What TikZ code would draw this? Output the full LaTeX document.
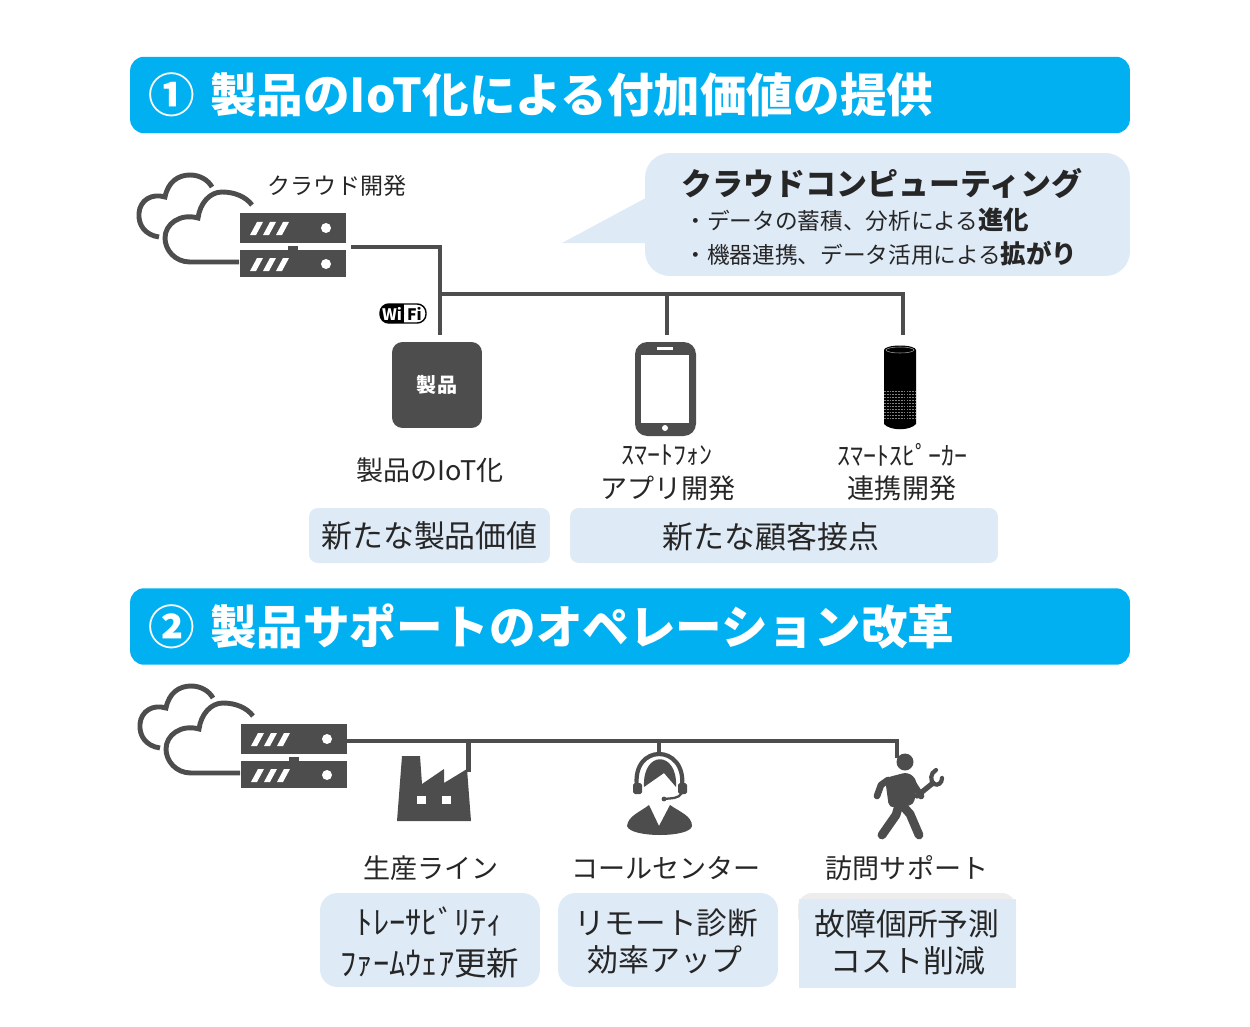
\documentclass[tikz,border=0pt]{standalone}
\usepackage{fontspec}
\setmainfont{Noto Sans CJK JP}
\usepackage{xcolor}
\usetikzlibrary{arrows.meta,positioning,calc}
\definecolor{hdBlue}{HTML}{00B0F0}
\definecolor{paleBlue}{HTML}{DEEAF6}
\definecolor{iconGray}{HTML}{4D4D4D}
\definecolor{inkGray}{HTML}{262626}

\begin{document}
\begin{tikzpicture}[
  x=0.02cm, y=-0.02cm,
  hdr/.style={fill=hdBlue, rounded corners=8pt, text=white, align=left, inner sep=0pt,
    minimum width=20cm, minimum height=1.53cm, text width=19.28cm,
    font=\fontsize{26.5}{30}\selectfont\bfseries},
  lbl/.style={text=inkGray, inner sep=0pt, align=center, font=\fontsize{15.4}{18}\selectfont},
  tag/.style={fill=paleBlue, rounded corners=#1, text=inkGray, inner sep=0pt, align=center,
    font=\fontsize{17.6}{24}\selectfont},
  tag/.default=5pt,
  wire/.style={draw=iconGray, line width=2.3pt},
  cloudsrv/.pic={
    \draw[iconGray, line width=2.8pt] (159,237) .. controls (145,235) and (138,225) .. (139,213)
      .. controls (140,200) and (152,193) .. (165,197) .. controls (168,182) and (178,175) .. (190,175)
      .. controls (200,175) and (208,180) .. (212,187);
    \draw[iconGray, line width=2.8pt] (239,262) -- (190,262) .. controls (175,262) and (165,250) .. (165,238)
      .. controls (165,224) and (180,213) .. (198,218) .. controls (200,203) and (210,192) .. (222,192)
      .. controls (235,192) and (246,197) .. (252,205);
    \fill[iconGray] (240,213) rectangle (346,243);
    \fill[iconGray] (240,250) rectangle (346,277);
    \fill[iconGray] (288,246) rectangle (298,250);
    \foreach \yy in {0,36} {
      \foreach \xx in {0,13,26} {
        \fill[white] (250+\xx,235+\yy) -- (256+\xx,235+\yy) -- (263+\xx,222+\yy) -- (257+\xx,222+\yy) -- cycle;
      }
      \fill[white] (326,228+\yy) circle [radius=5];
    }
    \coordinate (-port) at (346,230);
  }
]
\useasboundingbox (0,0) rectangle (1250,1027);

% section 1
\node[hdr] (hdrA) at (630,95) {① 製品のIoT化による付加価値の提供};
\pic (srvA) at (0,0) {cloudsrv};
\node[lbl, font=\fontsize{13.1}{16}\selectfont] (cloudLbl) at (337,186) {クラウド開発};

% callout
\coordinate (tipA) at (562,243);
\fill[paleBlue] (tipA) -- (655,193) -- (655,243) -- cycle;
\node[fill=paleBlue, rounded corners=14pt, minimum width=9.7cm, minimum height=2.46cm, inner sep=0pt]
  (bubble) at (887.5,214.5) {};
\node[text=inkGray, inner sep=0pt, font=\fontsize{17.6}{20}\selectfont\bfseries] (bubbleT) at (882,183)
  {クラウドコンピューティング};
\node[text=inkGray, inner sep=0pt, anchor=west, font=\fontsize{12.9}{16}\selectfont] (bubbleA) at (684,220)
  {・データの蓄積、分析による{\fontsize{14.5}{16}\selectfont\bfseries 進化}};
\node[text=inkGray, inner sep=0pt, anchor=west, font=\fontsize{12.9}{16}\selectfont] (bubbleB) at (684,254)
  {・機器連携、データ活用による{\fontsize{14.5}{16}\selectfont\bfseries 拡がり}};

% wires
\coordinate (hubA) at (440,247);
\coordinate (hubB) at (440,294);
\coordinate (hubC) at (667,294);
\coordinate (hubD) at (903,294);
\coordinate (srvOut) at (351,247);
\coordinate (prodIn) at (440,335);
\coordinate (phoneIn) at (667,335);
\coordinate (spkIn) at (903,335);
\draw[wire] (srvOut) -- (hubA) -- (prodIn);
\draw[wire] (hubB) -- (hubD) -- (spkIn);
\draw[wire] (hubC) -- (phoneIn);

% wifi mark
\draw[black, fill=white, line width=0.8pt, rounded corners=5pt] (380,304) rectangle (426,323);
\fill[black, rounded corners=5pt] (404,304) -- (380,304) -- (380,323) -- (404,323) -- cycle;
\fill[black] (396,304) rectangle (404,323);
\node[text=white, inner sep=0pt, font=\fontsize{9}{10}\selectfont\bfseries] (wifiL) at (392,313.5) {Wi};
\node[text=black, inner sep=0pt, font=\fontsize{9}{10}\selectfont\bfseries] (wifiR) at (414.5,313.5) {Fi};

% product, phone, speaker
\node[fill=iconGray, rounded corners=6pt, text=white, minimum width=1.8cm, minimum height=1.72cm, inner sep=0pt,
  font=\fontsize{11.4}{14}\selectfont\bfseries] (prod) at (437,385) {製品};
\fill[iconGray, rounded corners=7pt] (635,342) rectangle (696,436);
\fill[white] (641,355) rectangle (689,423);
\fill[white] (657,347) rectangle (673,349.5);
\fill[white] (665,428) circle [radius=3];
\fill[black] (884,350) -- (884,424) .. controls (890,431) and (910,431) .. (916,424) -- (916,350) -- cycle;
\fill[black] (900,350) ellipse [x radius=16, y radius=4.5];
\draw[gray!70, line width=0.3pt] (900,350) ellipse [x radius=14, y radius=3];
\foreach \yy in {391,394,...,418} {
  \draw[gray, line width=0.5pt, dash pattern=on 1pt off 0.6pt] (884,\yy) -- (916,\yy);
}

\node[lbl] (prodLbl) at (430,470) {製品のIoT化};
\node[lbl, font=\fontsize{14.8}{18}\selectfont] (phoneTop) at (667,455) {ｽﾏｰﾄﾌｫﾝ};
\node[lbl] (phoneLbl) at (668,488) {アプリ開発};
\node[lbl, font=\fontsize{14.8}{18}\selectfont] (spkTop) at (902,455) {ｽﾏｰﾄｽﾋﾟｰｶｰ};
\node[lbl] (spkLbl) at (902,488) {連携開発};
\node[tag, minimum width=4.82cm, minimum height=1.1cm] (valueTag) at (429.5,535.5) {新たな製品価値};
\node[tag, minimum width=8.56cm, minimum height=1.1cm] (touchTag) at (784,535.5) {};
\node[text=inkGray, inner sep=0pt, font=\fontsize{17.6}{24}\selectfont] (touchTxt) at (771,537) {新たな顧客接点};

% section 2
\node[hdr] (hdrB) at (630,626.5) {② 製品サポートのオペレーション改革};
\pic (srvB) at (1,511) {cloudsrv};
\coordinate (busA) at (468.5,741);
\coordinate (busB) at (659,741);
\coordinate (busC) at (897,741);
\coordinate (factIn) at (468.5,772);
\coordinate (opIn) at (659,752);
\coordinate (walkIn) at (897,758);
\draw[wire] (srvB-port) -- (busA) -- (busB) -- (busC) -- (walkIn);
\draw[wire] (busA) -- (factIn);
\draw[wire] (busB) -- (opIn);

% factory
\fill[iconGray] (397,821) -- (402,756) -- (420,756) -- (422,784) -- (444,769) -- (444,783) -- (467,769) -- (471,821) -- cycle;
\fill[white] (417,796) rectangle (426,804);
\fill[white] (442,796) rectangle (451,804);

% operator
\draw[iconGray, line width=2.4pt] (637,787) .. controls (631,743) and (687,743) .. (682,787);
\fill[iconGray] (644,787) .. controls (642,750) and (678,750) .. (676,787) -- (664,773) -- (644,787) -- cycle;
\fill[iconGray, rounded corners=1pt] (633,783) rectangle (642,794);
\fill[iconGray, rounded corners=1pt] (678,783) rectangle (687,794);
\draw[iconGray, line width=1.3pt] (682,793) .. controls (678,799) and (672,798) .. (664,799);
\fill[iconGray] (664,799) circle [radius=2.4];
\fill[iconGray] (627,826) .. controls (628,816) and (640,812) .. (649,805) -- (659,826) -- (670,805)
  .. controls (680,812) and (692,816) .. (692,826) .. controls (690,838) and (630,838) .. (627,826) -- cycle;

% service man
\fill[iconGray] (905,762) circle [radius=8.5];
\fill[iconGray, rounded corners=3pt] (885,778) -- (908,772) -- (917,780) -- (914,805) -- (889,808) -- cycle;
\draw[iconGray, line width=3.8pt, line cap=round, line join=round] (888,780) -- (881,785) -- (877,796);
\draw[iconGray, line width=3.8pt, line cap=round, line join=round] (912,782) -- (921,796);
\draw[iconGray, line width=5pt, line cap=round, line join=round] (899,805) -- (896,815) -- (882,835);
\draw[iconGray, line width=5pt, line cap=round, line join=round] (902,805) -- (910,814) -- (919,835);
\draw[iconGray, line width=3pt, line cap=round] (917,796) -- (933,783);
\draw[iconGray, line width=2.4pt, line cap=round] (936,770) .. controls (930,773) and (930,781) .. (934,784) .. controls (938,786) and (942,783) .. (942,778);

\node[lbl] (lineLbl) at (431,868) {生産ライン};
\node[lbl] (callLbl) at (666,868) {コールセンター};
\node[lbl] (visitLbl) at (907,868) {訪問サポート};

\node[tag=10pt, minimum width=4.4cm, minimum height=1.88cm] (traceTag) at (430,940) {};
\node[text=inkGray, inner sep=0pt, font=\fontsize{18.5}{24}\selectfont] (traceA) at (430,921) {ﾄﾚｰｻﾋﾞﾘﾃｨ};
\node[text=inkGray, inner sep=0pt, font=\fontsize{18.5}{24}\selectfont] (traceB) at (430,963) {ﾌｧｰﾑｳｪｱ更新};
\node[tag=10pt, minimum width=4.4cm, minimum height=1.88cm] (remoteTag) at (668,940) {};
\node[text=inkGray, inner sep=0pt, font=\fontsize{17.4}{24}\selectfont] (remoteA) at (666,923) {リモート診断};
\node[text=inkGray, inner sep=0pt, font=\fontsize{17.6}{24}\selectfont] (remoteB) at (665,960) {効率アップ};
\fill[black!7, rounded corners=8pt] (798,893) rectangle (1016,930);
\fill[paleBlue] (799,899) rectangle (1016,988);
\node[text=inkGray, inner sep=0pt, font=\fontsize{17.5}{24}\selectfont] (faultA) at (907,924) {故障個所予測};
\node[text=inkGray, inner sep=0pt, font=\fontsize{17.6}{24}\selectfont] (faultB) at (908,961) {コスト削減};
\end{tikzpicture}
\end{document}
